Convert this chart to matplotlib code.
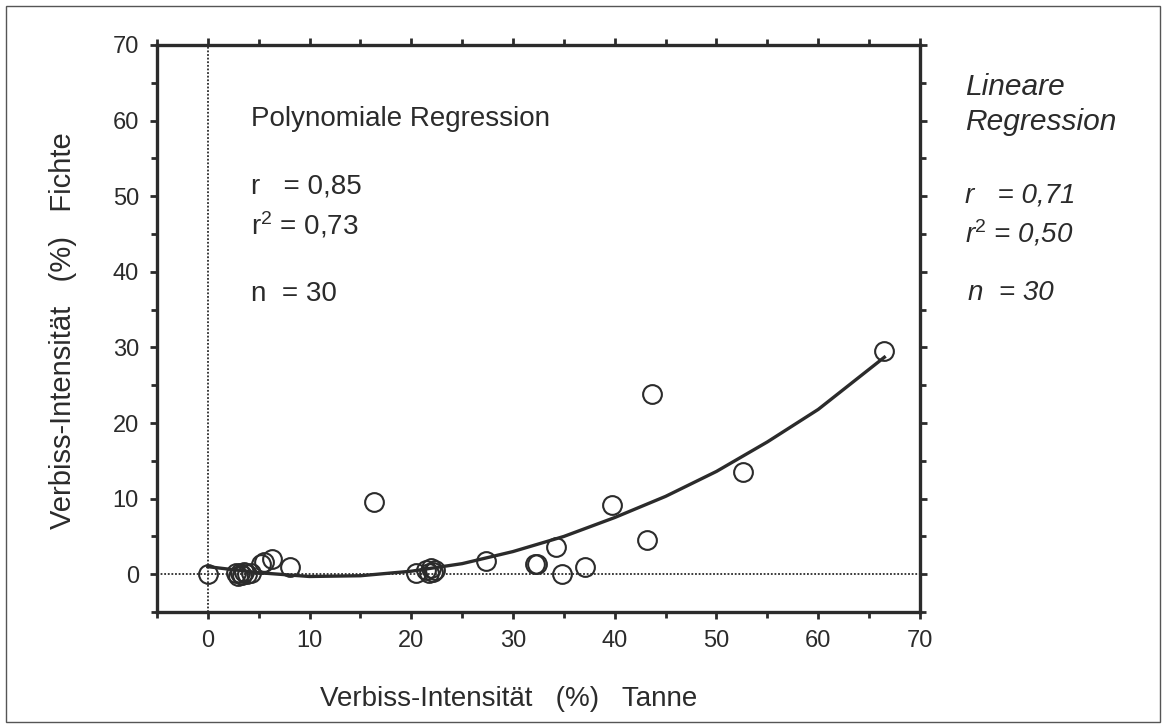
import matplotlib
matplotlib.use('Agg')
import matplotlib.pyplot as plt
from matplotlib.patches import Rectangle
from matplotlib.ticker import MultipleLocator

plt.rcParams['font.family'] = ['Liberation Sans', 'DejaVu Sans']
plt.rcParams['mathtext.fontset'] = 'custom'
plt.rcParams['mathtext.rm'] = 'Liberation Sans'
plt.rcParams['mathtext.it'] = 'Liberation Sans:italic'

############################### data #####################
# Verbiss-Intensitaet Tanne (x) / Fichte (y)
tanne = [0.0, 2.8, 3.0, 3.2, 3.4, 3.6, 3.9, 4.2, 5.2, 5.5, 6.3, 8.1,
         16.3, 20.5, 21.4, 21.7, 21.9, 22.1, 22.3, 27.3, 32.2, 32.4,
         34.2, 34.8, 37.1, 39.7, 43.2, 43.7, 52.6, 66.5]
fichte = [0.0, 0.1, -0.2, 0.2, -0.1, 0.3, 0.0, 0.2, 1.3, 1.6, 2.0, 0.9,
          9.6, 0.1, 0.6, 0.2, 0.8, 0.3, 0.5, 1.7, 1.3, 1.4,
          3.6, 0.0, 1.0, 9.2, 4.5, 23.8, 13.5, 29.5]

# polynomial regression curve
curve_x = [0, 5, 10, 15, 20, 25, 30, 35, 40, 45, 50, 55, 60, 66.5]
curve_y = [1.0, 0.2, -0.3, -0.2, 0.4, 1.4, 3.0, 5.0, 7.5, 10.3, 13.6, 17.5, 21.8, 28.7]

xticks = [0, 10, 20, 30, 40, 50, 60, 70]
yticks = [0, 10, 20, 30, 40, 50, 60, 70]

ink = '#2b2b2b'

fig = plt.figure(figsize=(11.66, 7.28), dpi=100)
fig.patches.append(Rectangle((0.005, 0.008), 0.99, 0.984, transform=fig.transFigure,
                             fill=False, edgecolor='#555555', linewidth=1.0))

ax = fig.add_axes([0.1346, 0.1593, 0.6544, 0.7789])

# zero lines (dotted)
ax.axhline(0, color=ink, linestyle=(0, (1, 1)), linewidth=1.3, zorder=1)
ax.axvline(0, color=ink, linestyle=(0, (1, 1)), linewidth=1.3, zorder=1)

# regression curve
ax.plot(curve_x, curve_y, color=ink, linewidth=2.4, zorder=2)

# points
ax.plot(tanne, fichte, linestyle='none', marker='o', markersize=13.5,
        markerfacecolor='none', markeredgecolor=ink, markeredgewidth=1.5, zorder=3)

ax.set_xlim(-5, 70)
ax.set_ylim(-5, 70)
ax.set_xticks(xticks)
ax.set_yticks(yticks)
ax.xaxis.set_minor_locator(MultipleLocator(5))
ax.yaxis.set_minor_locator(MultipleLocator(5))
ax.tick_params(which='both', direction='out', top=True, right=True,
               labeltop=False, labelright=False, color=ink, width=2)
ax.tick_params(which='major', length=5, labelsize=17, labelcolor=ink)
ax.tick_params(axis='x', which='major', pad=8)
ax.tick_params(axis='y', which='major', pad=8)
ax.tick_params(which='minor', length=4)
for sp in ax.spines.values():
    sp.set_linewidth(2.4)
    sp.set_color(ink)

ax.set_xlabel('Verbiss-Intensität   (%)   Tanne', fontsize=20, color=ink, va='center')
ax.xaxis.set_label_coords(0.461, -0.153)
ax.set_ylabel('Verbiss-Intensität   (%)   Fichte', fontsize=21, color=ink, va='center')
ax.yaxis.set_label_coords(-0.123, 0.497)

# annotations inside the plot
ax.text(4.2, 60.2, 'Polynomiale Regression', fontsize=20, color=ink, va='center')
ax.text(4.2, 51.3, 'r   = 0,85', fontsize=20, color=ink, va='center')
ax.text(4.2, 46.2, r'r$^{\mathrm{2}}$ = 0,73', fontsize=20, color=ink, va='center')
ax.text(4.2, 37.0, 'n  = 30', fontsize=20, color=ink, va='center')

# linear regression text (right side, italic)
def fy(py):
    return 1 - py / 728.0

fx = 965 / 1166.0
fig.text(fx, fy(87), 'Lineare', fontsize=21.5, style='italic', color=ink, va='center')
fig.text(fx, fy(122), 'Regression', fontsize=21.5, style='italic', color=ink, va='center')
fig.text(fx, fy(195), 'r   = 0,71', fontsize=20, style='italic', color=ink, va='center')
fig.text(fx, fy(233), r'r$^{\mathit{2}}$ = 0,50', fontsize=20, style='italic', color=ink, va='center')
fig.text(fx + 0.003, fy(293), 'n  = 30', fontsize=20, style='italic', color=ink, va='center')

fig.savefig('out.png', dpi=100)
